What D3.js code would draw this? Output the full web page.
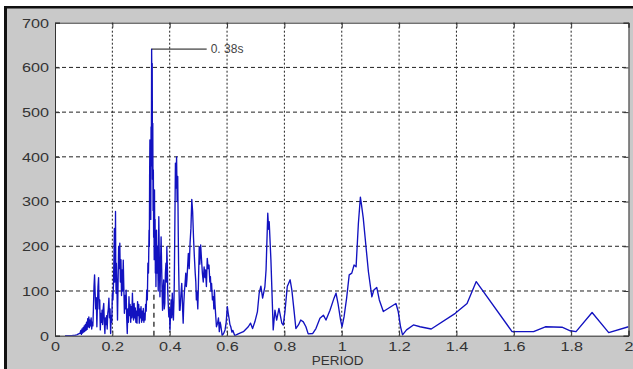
<!DOCTYPE html>
<html>
<head>
<meta charset="utf-8">
<script src="https://cdn.jsdelivr.net/npm/d3@7"></script>
<style>
  html, body { margin: 0; padding: 0; background: #fff; }
  svg { display: block; }
  .tick text { font-family: "Liberation Sans", Arial, sans-serif; font-size: 13.5px; fill: #333; }
</style>
</head>
<body>
<div id="chart"></div>
<script>
// [period (s), amplitude]
const spectrum = [
  [0.035, 0], [0.058, 0], [0.070, 1], [0.076, 2], [0.082, 4], [0.087, 5],
  [0.090, 12], [0.092, 3], [0.094, 15], [0.096, 6], [0.098, 18], [0.100, 8], [0.102, 22], [0.104, 10],
  [0.106, 25], [0.108, 12], [0.110, 30], [0.112, 14], [0.114, 38], [0.116, 20], [0.118, 42], [0.120, 18],
  [0.122, 35], [0.124, 22], [0.126, 40], [0.128, 15], [0.130, 30], [0.132, 22], [0.134, 60], [0.136, 110],
  [0.138, 136], [0.140, 95], [0.142, 60], [0.144, 85], [0.146, 20], [0.148, 70], [0.150, 110], [0.152, 130],
  [0.154, 60], [0.156, 80], [0.158, 13], [0.160, 50], [0.162, 30], [0.164, 57], [0.166, 25], [0.168, 60],
  [0.170, 72], [0.172, 30], [0.174, 5], [0.176, 40], [0.178, 25], [0.180, 45], [0.182, 15], [0.184, 50],
  [0.186, 60], [0.188, 84], [0.190, 40], [0.192, 60], [0.194, 5], [0.196, 45], [0.198, 30], [0.200, 95],
  [0.202, 80], [0.204, 117], [0.206, 190], [0.207, 240], [0.208, 120], [0.210, 150], [0.211, 278], [0.212, 140],
  [0.213, 95], [0.214, 162], [0.216, 110], [0.218, 35], [0.220, 120], [0.222, 199], [0.224, 150], [0.226, 207],
  [0.228, 120], [0.230, 170], [0.232, 90], [0.234, 147], [0.236, 100], [0.238, 169], [0.240, 110], [0.242, 50],
  [0.244, 90], [0.246, 60], [0.248, 102], [0.250, 40], [0.252, 5], [0.254, 60], [0.256, 30], [0.258, 87],
  [0.260, 45], [0.262, 70], [0.264, 30], [0.266, 65], [0.268, 40], [0.270, 95], [0.272, 50], [0.274, 35],
  [0.276, 72], [0.278, 40], [0.280, 62], [0.282, 30], [0.284, 55], [0.286, 28], [0.288, 76], [0.290, 45],
  [0.292, 70], [0.294, 28], [0.296, 60], [0.298, 40], [0.300, 65], [0.302, 30], [0.304, 55], [0.306, 35],
  [0.308, 61], [0.310, 30], [0.312, 50], [0.314, 35], [0.316, 70], [0.318, 55], [0.320, 102], [0.322, 80],
  [0.324, 162], [0.326, 140], [0.328, 236], [0.329, 200], [0.330, 356], [0.331, 438], [0.332, 300], [0.333, 420],
  [0.334, 260], [0.335, 467], [0.336, 380], [0.337, 641], [0.338, 560], [0.339, 609], [0.340, 350], [0.341, 475],
  [0.342, 280], [0.343, 371], [0.344, 220], [0.345, 266], [0.346, 170], [0.347, 326], [0.348, 200], [0.349, 260],
  [0.350, 140], [0.351, 221], [0.352, 110], [0.354, 236], [0.356, 140], [0.358, 200], [0.360, 100], [0.362, 266],
  [0.364, 162], [0.366, 87], [0.368, 160], [0.370, 221], [0.372, 150], [0.373, 117], [0.375, 57], [0.377, 100],
  [0.379, 125], [0.381, 60], [0.383, 72], [0.385, 140], [0.387, 162], [0.389, 120], [0.390, 199], [0.392, 150],
  [0.393, 102], [0.395, 70], [0.397, 42], [0.399, 60], [0.401, 13], [0.403, 50], [0.405, 80], [0.407, 40],
  [0.409, 95], [0.411, 60], [0.413, 35], [0.415, 80], [0.416, 117], [0.418, 250], [0.420, 386], [0.422, 330],
  [0.424, 400], [0.426, 300], [0.428, 356], [0.430, 220], [0.431, 162], [0.433, 90], [0.434, 57], [0.436, 57],
  [0.439, 90], [0.442, 117], [0.445, 60], [0.447, 28], [0.449, 70], [0.451, 95], [0.454, 120], [0.456, 140],
  [0.458, 110], [0.460, 125], [0.463, 160], [0.465, 184], [0.468, 150], [0.471, 207], [0.474, 240], [0.477, 305],
  [0.480, 277], [0.483, 220], [0.486, 177], [0.489, 140], [0.491, 121], [0.493, 80], [0.495, 98], [0.498, 60],
  [0.500, 110], [0.503, 199], [0.505, 160], [0.508, 203], [0.511, 170], [0.514, 140], [0.517, 120], [0.520, 154],
  [0.523, 130], [0.525, 147], [0.528, 110], [0.531, 173], [0.534, 150], [0.537, 158], [0.540, 120], [0.542, 132],
  [0.544, 100], [0.546, 117], [0.549, 80], [0.552, 87], [0.554, 60], [0.556, 102], [0.558, 70], [0.560, 50],
  [0.563, 20], [0.567, 28], [0.570, 40], [0.573, 9], [0.576, 30], [0.578, 24], [0.581, 10], [0.583, 0],
  [0.588, 5], [0.593, 13], [0.597, 30], [0.601, 65], [0.604, 50], [0.607, 39], [0.610, 25], [0.613, 20],
  [0.617, 8], [0.620, 12], [0.627, 0], [0.639, 4], [0.657, 9], [0.674, 20], [0.682, 28], [0.689, 16],
  [0.697, 31], [0.706, 54], [0.712, 95], [0.718, 111], [0.724, 84], [0.732, 110], [0.736, 147], [0.742, 274],
  [0.745, 238], [0.747, 255], [0.753, 169], [0.761, 13], [0.767, 57], [0.773, 35], [0.781, 61], [0.791, 28],
  [0.796, 24], [0.802, 54], [0.810, 110], [0.820, 125], [0.826, 102], [0.834, 54], [0.840, 16], [0.849, 24],
  [0.857, 35], [0.866, 31], [0.875, 20], [0.883, 4], [0.899, 5], [0.910, 16], [0.924, 39], [0.936, 46],
  [0.945, 35], [0.959, 57], [0.973, 84], [0.980, 95], [0.987, 72], [0.996, 35], [1.001, 20], [1.008, 42],
  [1.017, 84], [1.026, 136], [1.035, 140], [1.043, 158], [1.050, 154], [1.058, 251], [1.065, 310], [1.069, 292],
  [1.075, 263], [1.085, 196], [1.093, 143], [1.105, 87], [1.112, 102], [1.122, 108], [1.131, 80], [1.145, 54],
  [1.189, 72], [1.197, 54], [1.205, 20], [1.212, 2], [1.226, 13], [1.250, 24], [1.273, 20], [1.312, 15],
  [1.396, 50], [1.437, 72], [1.469, 121], [1.594, 9], [1.669, 9], [1.710, 20], [1.768, 19], [1.797, 11],
  [1.817, 9], [1.873, 52], [1.931, 7], [2.000, 20]
]
const xTicks = [0, 0.2, 0.4, 0.6, 0.8, 1, 1.2, 1.4, 1.6, 1.8, 2]
const yTicks = [0, 100, 200, 300, 400, 500, 600, 700]
const peakLabel = { period: 0.337, value: 641, text: "0. 38s", lineTo: 0.529 }
const marker = { period: 0.345, value: 95 }

const W = 633, H = 369
const plotL = 55, plotR = 628.5, plotT = 22.7, plotB = 335.7

const svg = d3.select("#chart").append("svg")
    .attr("width", W)
    .attr("height", H)

// page frame
svg.append("rect").attr("width", W).attr("height", H).attr("fill", "#fff")
svg.append("rect").attr("x", 6).attr("y", 7).attr("width", W - 6).attr("height", H - 7).attr("fill", "#c9c9c9")
svg.append("rect").attr("x", 4).attr("y", 6).attr("width", W - 4).attr("height", 2.5).attr("fill", "#111")
svg.append("rect").attr("x", 4).attr("y", 6).attr("width", 3).attr("height", H - 6).attr("fill", "#111")

let x = d3.scaleLinear().domain([0, 2]).range([plotL, plotR])
let y = d3.scaleLinear().domain([0, 700]).range([plotB, plotT])

svg.append("rect")
    .attr("x", plotL).attr("y", plotT)
    .attr("width", plotR - plotL).attr("height", plotB - plotT)
    .attr("fill", "#fff")

svg.append("clipPath").attr("id", "plot")
    .append("rect")
    .attr("x", plotL).attr("y", plotT)
    .attr("width", plotR - plotL).attr("height", plotB - plotT)

// grid
svg.append("g").selectAll("line")
    .data(yTicks.filter(d => d > 0 && d < 700))
    .join("line")
    .attr("x1", plotL).attr("x2", plotR)
    .attr("y1", d => y(d)).attr("y2", d => y(d))
    .attr("stroke", "#222").attr("stroke-width", 1)
    .attr("stroke-dasharray", "4,3")
svg.append("g").selectAll("line")
    .data(xTicks.filter(d => d > 0 && d < 2))
    .join("line")
    .attr("x1", d => x(d)).attr("x2", d => x(d))
    .attr("y1", plotT).attr("y2", plotB)
    .attr("stroke", "#222").attr("stroke-width", 1)
    .attr("stroke-dasharray", "2,2")

// spectrum
let line = d3.line()
    .x(d => x(d[0]))
    .y(d => y(d[1]))
svg.append("path")
    .datum(spectrum)
    .attr("clip-path", "url(#plot)")
    .attr("fill", "none")
    .attr("stroke", "#1212c0")
    .attr("stroke-width", 1.35)
    .attr("stroke-linejoin", "round")
    .attr("d", line)

// peak marker
svg.append("line")
    .attr("x1", x(marker.period)).attr("x2", x(marker.period))
    .attr("y1", y(0)).attr("y2", y(marker.value))
    .attr("stroke", "#111").attr("stroke-width", 1.2)
    .attr("stroke-dasharray", "5,4")
svg.append("line")
    .attr("x1", x(peakLabel.period)).attr("x2", x(peakLabel.lineTo))
    .attr("y1", y(peakLabel.value)).attr("y2", y(peakLabel.value))
    .attr("stroke", "#111").attr("stroke-width", 1)
svg.append("text")
    .attr("x", x(peakLabel.lineTo) + 4)
    .attr("y", y(peakLabel.value) + 4)
    .attr("font-family", "Liberation Sans, Arial, sans-serif")
    .attr("font-size", 12)
    .attr("fill", "#444")
    .text(peakLabel.text)

// axes
let xAxis = svg.append("g")
    .attr("transform", `translate(0,${plotB})`)
    .call(d3.axisBottom(x).tickValues(xTicks).tickSize(-5).tickPadding(6).tickFormat(d => d))
xAxis.selectAll("text").attr("transform", "scale(1.2,1)")
svg.append("g")
    .attr("transform", `translate(0,${plotT})`)
    .call(d3.axisTop(x).tickValues(xTicks).tickSize(-5).tickFormat(""))
let yAxis = svg.append("g")
    .attr("transform", `translate(${plotL},0)`)
    .call(d3.axisLeft(y).tickValues(yTicks).tickSize(-5).tickPadding(5))
yAxis.selectAll("text").attr("transform", "scale(1.2,1)")
svg.append("g")
    .attr("transform", `translate(${plotR},0)`)
    .call(d3.axisRight(y).tickValues(yTicks).tickSize(-5).tickFormat(""))

svg.selectAll(".domain").attr("stroke", "#333")
svg.selectAll(".tick line").attr("stroke", "#333")

svg.append("text")
    .attr("x", (plotL + plotR) / 2 - 4)
    .attr("y", 365)
    .attr("text-anchor", "middle")
    .attr("font-family", "Liberation Sans, Arial, sans-serif")
    .attr("font-size", 13.5)
    .attr("fill", "#333")
    .text("PERIOD")
</script>
</body>
</html>
